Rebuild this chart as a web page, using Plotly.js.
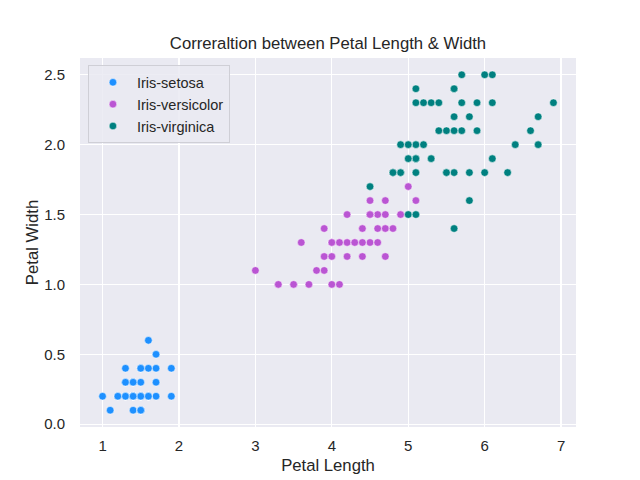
<!DOCTYPE html>
<html><head><meta charset="utf-8">
<script src="https://cdn.plot.ly/plotly-3.0.1.min.js"></script>
<style>html,body{margin:0;padding:0;background:#fff}</style>
</head><body><div id="chart" style="width:640px;height:480px"></div>
<script>
var speciesNames = ["Iris-setosa", "Iris-versicolor", "Iris-virginica"];
var speciesColors = ["#1E90FF", "#BA55D3", "#008080"];
var setosaLength = [1.4,1.4,1.3,1.5,1.4,1.7,1.4,1.5,1.4,1.5,1.5,1.6,1.4,1.1,1.2,1.5,1.3,1.4,1.7,1.5,1.7,1.5,1.0,1.7,1.9,1.6,1.6,1.5,1.4,1.6,1.6,1.5,1.5,1.4,1.5,1.2,1.3,1.5,1.3,1.5,1.3,1.3,1.3,1.6,1.9,1.4,1.6,1.4,1.5,1.4];
var setosaWidth  = [0.2,0.2,0.2,0.2,0.2,0.4,0.3,0.2,0.2,0.1,0.2,0.2,0.1,0.1,0.2,0.4,0.4,0.3,0.3,0.3,0.2,0.4,0.2,0.5,0.2,0.2,0.4,0.2,0.2,0.2,0.2,0.4,0.1,0.2,0.1,0.2,0.2,0.1,0.2,0.2,0.3,0.3,0.2,0.6,0.4,0.3,0.2,0.2,0.2,0.2];
var versicolorLength = [4.7,4.5,4.9,4.0,4.6,4.5,4.7,3.3,4.6,3.9,3.5,4.2,4.0,4.7,3.6,4.4,4.5,4.1,4.5,3.9,4.8,4.0,4.9,4.7,4.3,4.4,4.8,5.0,4.5,3.5,3.8,3.7,3.9,5.1,4.5,4.5,4.7,4.4,4.1,4.0,4.4,4.6,4.0,3.3,4.2,4.2,4.2,4.3,3.0,4.1];
var versicolorWidth  = [1.4,1.5,1.5,1.3,1.5,1.3,1.6,1.0,1.3,1.4,1.0,1.5,1.0,1.4,1.3,1.4,1.5,1.0,1.5,1.1,1.8,1.3,1.5,1.2,1.3,1.4,1.4,1.7,1.5,1.0,1.1,1.0,1.2,1.6,1.5,1.6,1.5,1.3,1.3,1.3,1.2,1.4,1.2,1.0,1.3,1.2,1.3,1.3,1.1,1.3];
var virginicaLength = [6.0,5.1,5.9,5.6,5.8,6.6,4.5,6.3,5.8,6.1,5.1,5.3,5.5,5.0,5.1,5.3,5.5,6.7,6.9,5.0,5.7,4.9,6.7,4.9,5.7,6.0,4.8,4.9,5.6,5.8,6.1,6.4,5.6,5.1,5.6,6.1,5.6,5.5,4.8,5.4,5.6,5.1,5.1,5.9,5.7,5.2,5.0,5.2,5.4,5.1];
var virginicaWidth  = [2.5,1.9,2.1,1.8,2.2,2.1,1.7,1.8,1.8,2.5,2.0,1.9,2.1,2.0,2.4,2.3,1.8,2.2,2.3,1.5,2.3,2.0,2.0,1.8,2.1,1.8,1.8,1.8,2.1,1.6,1.9,2.0,2.2,1.5,1.4,2.3,2.4,1.8,1.8,2.1,2.4,2.3,1.9,2.3,2.5,2.3,1.9,2.0,2.3,1.8];
var xTicks = [1,2,3,4,5,6,7];
var yTicks = [0.0,0.5,1.0,1.5,2.0,2.5];

var xs = [setosaLength, versicolorLength, virginicaLength];
var ys = [setosaWidth, versicolorWidth, virginicaWidth];
var traces = speciesNames.map(function(n,i){
  return {type:'scatter', mode:'markers', name:n, x:xs[i], y:ys[i],
    marker:{color:speciesColors[i], size:7.6, line:{color:'#ffffff', width:0.5}}};
});
var font = {family:'"Liberation Sans", Arial, sans-serif', color:'#262626'};
var layout = {
  width:640, height:480,
  paper_bgcolor:'#ffffff', plot_bgcolor:'#EAEAF2',
  margin:{l:80, r:64, t:57.6, b:52.8, pad:0},
  font:font,
  title:{text:'Correraltion between Petal Length & Width', x:0.5, xanchor:'center', xref:'paper', y:0.91, yanchor:'middle', font:{family:font.family, color:'#262626', size:16.7}},
  xaxis:{range:[0.705,7.195], tickvals:xTicks, ticktext:xTicks.map(String), showgrid:true, gridcolor:'#ffffff', gridwidth:1.3, zeroline:false, showline:false, ticks:'', ticklabelstandoff:8, tickfont:{size:15, color:'#262626'},
    title:{text:'Petal Length', font:{size:16.7, color:'#262626'}, standoff:6}},
  yaxis:{range:[-0.02,2.62], tickvals:yTicks, ticktext:yTicks.map(function(v){return v.toFixed(1);}), showgrid:true, gridcolor:'#ffffff', gridwidth:1.3, zeroline:false, showline:false, ticks:'', ticklabelstandoff:14, tickfont:{size:15, color:'#262626'},
    title:{text:'Petal Width', font:{size:16.7, color:'#262626'}, standoff:1}},
  legend:{x:0.016, y:0.98, xanchor:'left', yanchor:'top', bgcolor:'rgba(234,234,242,0.85)', bordercolor:'#cfcfd6', borderwidth:1, font:{size:14.5, color:'#262626'}, itemwidth:38, tracegroupgap:0},
  showlegend:true
};
Plotly.newPlot('chart', traces, layout, {displayModeBar:false, staticPlot:true});
</script></body></html>
